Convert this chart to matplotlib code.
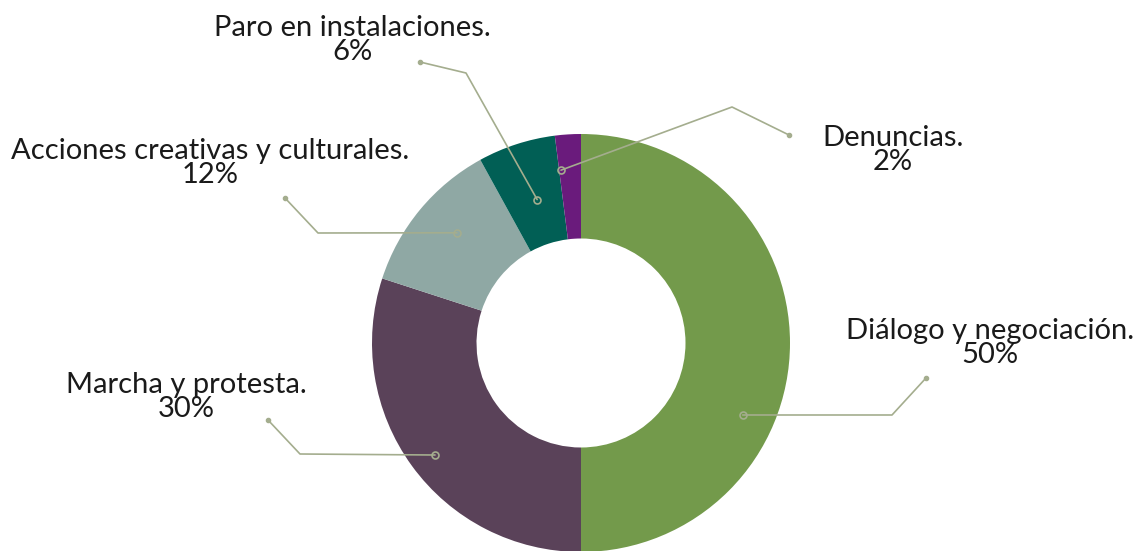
import numpy as np
import matplotlib.pyplot as plt
from matplotlib import font_manager

# Strategy shares
labels = ['Diálogo y negociación.', 'Marcha y protesta.', 'Acciones creativas y culturales.',
          'Paro en instalaciones.', 'Denuncias.']
shares = [50, 30, 12, 6, 2]
colors = ['#739a4b', '#5a4259', '#8fa8a4', '#015f55', '#6a1b7c']

# label layout in pixel space (y measured from the top)
text_pos = [(990, 343), (186, 397), (210, 163), (352, 40), (893, 150)]
elbow = [(892, 415), (300, 454), (318, 233), (466, 73), (732, 107)]
tip = [(926, 378), (268, 420), (285, 198), (420, 62), (789, 135)]
anchor_shift = [-24, 1.5, -2, -1, 3]   # degrees from wedge middle
anchor_r = [177, 184, 166, 150, 174]

W, H = 1139, 551
cx, cy, R = 581, 343, 209

names = [f.name for f in font_manager.fontManager.ttflist]
family = 'Lato' if 'Lato' in names else 'DejaVu Sans'

fig = plt.figure(figsize=(W / 100, H / 100), dpi=100)
ax = fig.add_axes([0, 0, 1, 1])

wedges, _ = ax.pie(shares, colors=colors, startangle=90, counterclock=False,
                   radius=R, center=(cx, H - cy),
                   wedgeprops=dict(width=R * 0.5, linewidth=0))

line_col = '#a4ad8e'
for i, w in enumerate(wedges):
    mid = np.deg2rad((w.theta1 + w.theta2) / 2 + anchor_shift[i])
    ax_x = cx + anchor_r[i] * np.cos(mid)
    ax_y = (H - cy) + anchor_r[i] * np.sin(mid)
    xs = [ax_x, elbow[i][0], tip[i][0]]
    ys = [ax_y, H - elbow[i][1], H - tip[i][1]]
    ax.plot(xs, ys, color=line_col, lw=1.2, solid_capstyle='round', zorder=3)
    ax.plot(ax_x, ax_y, 'o', ms=5, mfc='none', mec=line_col, mew=1.2, zorder=4)
    ax.plot(xs[-1], ys[-1], 'o', ms=3, color=line_col, zorder=4)
    ax.text(text_pos[i][0], H - text_pos[i][1], f'{labels[i]}\n{shares[i]}%',
            ha='center', va='center', fontsize=21, family=family, weight='normal',
            color='#1a1a1a', linespacing=0.92)

ax.set_xlim(0, W)
ax.set_ylim(0, H)
ax.set_aspect('auto')
ax.axis('off')

fig.savefig('out.png', dpi=100, facecolor='white')
